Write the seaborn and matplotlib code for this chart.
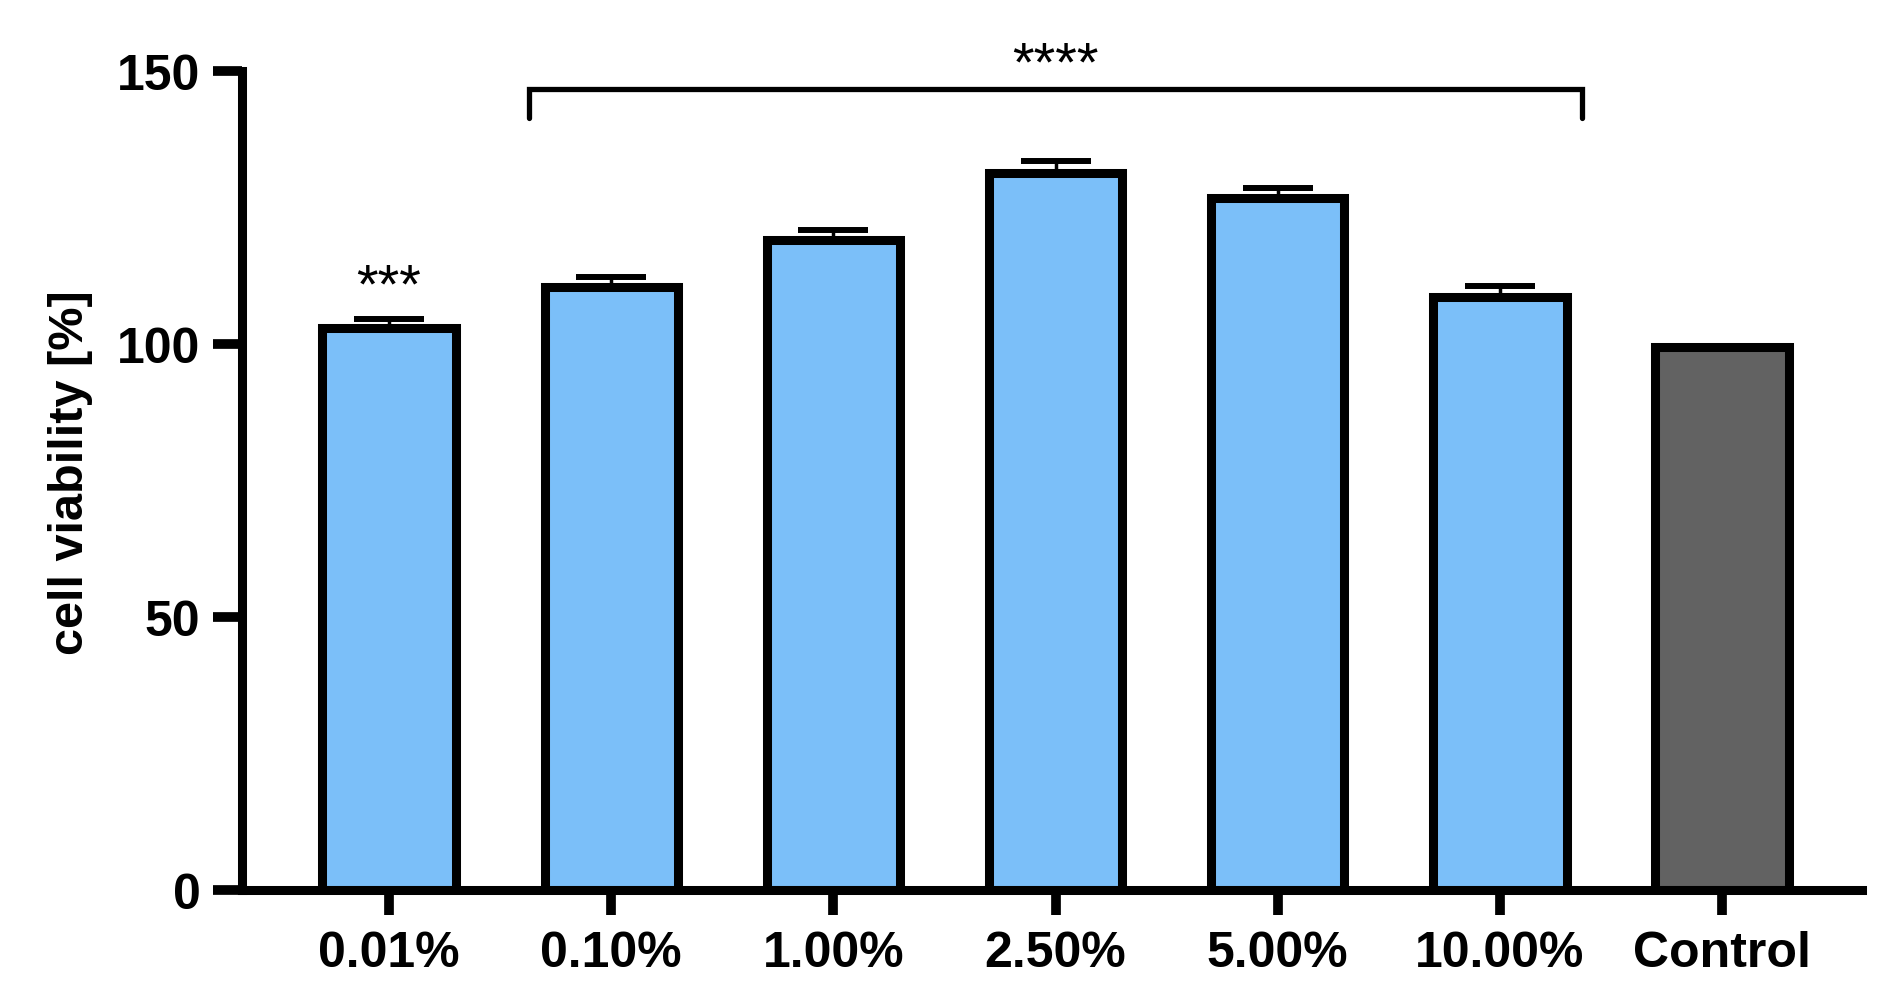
import pandas as pd
import matplotlib
matplotlib.use("Agg")
import matplotlib.pyplot as plt
import seaborn as sns

# values
groups = ["0.01%", "0.10%", "1.00%", "2.50%", "5.00%", "10.00%", "Control"]
viability = [102.8, 110.3, 118.9, 131.3, 126.6, 108.5, 99.3]
sem = [1.8, 1.9, 2.0, 2.1, 2.0, 2.0, 0.0]
bar_colors = ["#7bbff9"] * 6 + ["#626262"]

df = pd.DataFrame({"group": groups, "viability": viability, "sem": sem})

sns.set_style("ticks", {"axes.edgecolor": "black", "xtick.color": "black",
                        "ytick.color": "black", "text.color": "black",
                        "axes.labelcolor": "black"})
plt.rcParams["font.family"] = ["Liberation Sans", "DejaVu Sans"]

fig = plt.figure(figsize=(19.02, 10.04), dpi=100)
ax = fig.add_axes([0.1272, 0.1129, 0.979 - 0.1272, 0.9286 - 0.1129])

sns.barplot(data=df, x="group", y="viability", hue="group", palette=bar_colors,
            legend=False, width=0.6, edgecolor="black", linewidth=6.5,
            saturation=1, errorbar=None, ax=ax, zorder=2)

# upper error bars only (lower half sits inside the bar)
has_err = df["sem"] > 0
idx = df.index[has_err]
ax.errorbar(idx, df.loc[has_err, "viability"],
            yerr=[[0] * len(idx), df.loc[has_err, "sem"]],
            fmt="none", ecolor="black", elinewidth=2.5, capsize=25,
            capthick=4.3, zorder=3)

ax.set_ylim(0, 150)
ax.set_xlim(-0.662, 6.63)
ax.set_yticks([0, 50, 100, 150])
ax.set_xlabel("")
ax.set_ylabel("cell viability [%]", fontsize=35, fontweight="bold")
ax.yaxis.set_label_coords(-0.106, 0.511)
ax.yaxis.label.set_va("center")

sns.despine(ax=ax)
for side in ["left", "bottom"]:
    ax.spines[side].set_linewidth(6.5)
    ax.spines[side].set_color("black")
    ax.spines[side].set_capstyle("projecting")
ax.tick_params(axis="x", length=18, width=7, pad=11, labelsize=36, colors="black")
ax.tick_params(axis="y", length=21, width=7, pad=9, labelsize=36, colors="black")
for lab in ax.get_xticklabels() + ax.get_yticklabels():
    lab.set_fontweight("bold")

# significance marks
ax.text(0, 107.8, "***", ha="center", va="baseline", fontsize=40, color="black")
x0, x1 = 1 - 0.37, 5 + 0.37
ax.plot([x0, x0, x1, x1], [141.3, 146.6, 146.6, 141.3], color="black",
        lw=3.8, clip_on=False, solid_joinstyle="miter")
ax.text(3, 148.4, "****", ha="center", va="baseline", fontsize=40,
        color="black", clip_on=False)

plt.savefig("out.png", dpi=100)
